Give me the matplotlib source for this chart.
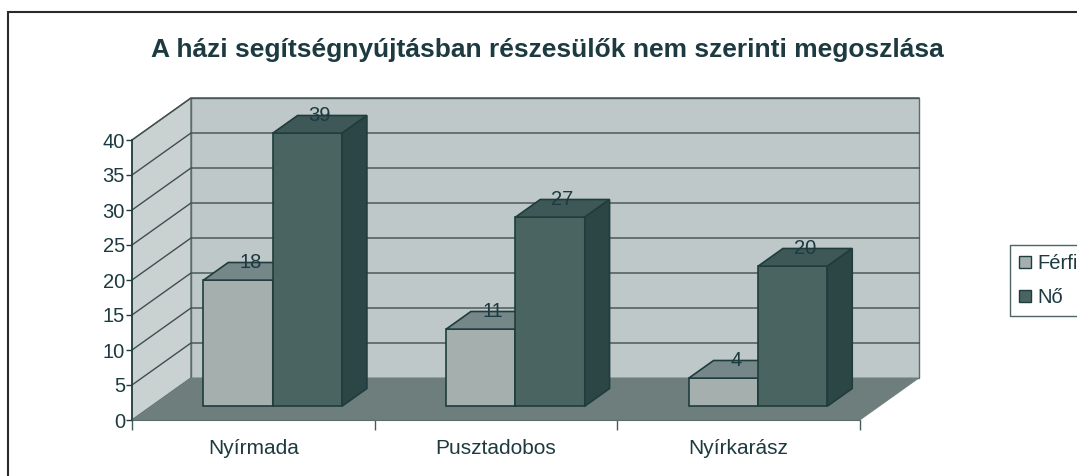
import matplotlib
matplotlib.use("Agg")
import matplotlib.pyplot as plt
from matplotlib.patches import Polygon, Patch, Rectangle

plt.rcParams['font.family'] = ['Liberation Sans', 'DejaVu Sans']

# data
categories = ["Nyírmada", "Pusztadobos", "Nyírkarász"]
series_names = ["Férfi", "Nő"]
ferfi = [18, 11, 4]
no = [39, 27, 20]
yticks = [0, 5, 10, 15, 20, 25, 30, 35, 40]

title = "A házi segítségnyújtásban részesülők nem szerinti megoszlása"

# colours
txt = "#1c3a40"
edge = "#1f3d3d"
wall_back = "#bfc8c8"
wall_side = "#c9d1d1"
floor_c = "#6d7e7d"
face = {"Férfi": ("#a5afad", "#76878a", "#8a9896"), "Nő": ("#4a6462", "#3d5856", "#2c4646")}

# oblique depth offset (in data units) and bar depth range
dx, dy = 0.243, 6.0
f0, f1 = 0.33, 0.75
bw = 1 / 3.5  # excel gap width 150

fig = plt.figure(figsize=(10.77, 4.76), dpi=100)
W, H = 1077, 476
xmin, xmax, ymin, ymax = -0.3, 3.5, -3, 48
pxx, pxy = 242.67, 7.0
left = 132 + xmin * pxx
bottom = (H - 420) + ymin * pxy
ax = fig.add_axes([left / W, bottom / H, (xmax - xmin) * pxx / W, (ymax - ymin) * pxy / H])
ax.set_xlim(xmin, xmax)
ax.set_ylim(ymin, ymax)
ax.patch.set_visible(False)

top = yticks[-1]
n = len(categories)

# walls and floor
ax.add_patch(Polygon([(dx, dy), (n + dx, dy), (n + dx, top + dy), (dx, top + dy)],
                     closed=True, fc=wall_back, ec="#5c6b6b", lw=1.0, zorder=1))
ax.add_patch(Polygon([(0, 0), (dx, dy), (dx, top + dy), (0, top)],
                     closed=True, fc=wall_side, ec="#5c6b6b", lw=1.0, zorder=1))
ax.add_patch(Polygon([(0, 0), (n, 0), (n + dx, dy), (dx, dy)],
                     closed=True, fc=floor_c, ec=floor_c, lw=0.5, zorder=2))

# gridlines
for v in yticks[1:]:
    ax.plot([0, dx, n + dx], [v, v + dy, v + dy], color="#3f4f4f", lw=1.0, zorder=1.5)

# bars
for i in range(n):
    for j, (name, vals) in enumerate(zip(series_names, [ferfi, no])):
        v = vals[i]
        x0 = i + 0.5 - bw + j * bw
        x1 = x0 + bw
        cf, ctop, cside = face[name]
        z = 3 + i + j * 0.1
        ax.bar(x0 + f0 * dx, v, width=bw, bottom=f0 * dy, align="edge",
               color=cf, edgecolor=edge, linewidth=1.2, zorder=z)
        ax.add_patch(Polygon([(x0 + f0 * dx, v + f0 * dy), (x1 + f0 * dx, v + f0 * dy),
                              (x1 + f1 * dx, v + f1 * dy), (x0 + f1 * dx, v + f1 * dy)],
                             closed=True, fc=ctop, ec=edge, lw=1.2, zorder=z))
        ax.add_patch(Polygon([(x1 + f0 * dx, f0 * dy), (x1 + f1 * dx, f1 * dy),
                              (x1 + f1 * dx, v + f1 * dy), (x1 + f0 * dx, v + f0 * dy)],
                             closed=True, fc=cside, ec=edge, lw=1.2, zorder=z))
        ax.text(x0 + bw / 2 + (f0 + f1) / 2 * dx, v + f1 * dy, str(v),
                ha="center", va="center", fontsize=14.5, color=txt, zorder=10)

# axes
for s in ["top", "right"]:
    ax.spines[s].set_visible(False)
ax.spines["left"].set_position(("data", 0))
ax.spines["left"].set_bounds(0, top)
ax.spines["bottom"].set_position(("data", 0))
ax.spines["bottom"].set_bounds(0, n)
ax.spines["left"].set_color(edge)
ax.spines["bottom"].set_color("#5c6b6b")
ax.spines["left"].set_linewidth(1.2)
ax.spines["bottom"].set_linewidth(0.8)
ax.spines["left"].set_zorder(4)
ax.set_yticks(yticks)
ax.tick_params(axis="y", direction="out", length=4, width=1, color=edge,
               labelsize=14.5, labelcolor=txt, pad=1)
ax.set_xticks(range(n + 1))
ax.set_xticklabels([])
ax.set_xticks([i + 0.5 for i in range(n)], minor=True)
ax.set_xticklabels(categories, minor=True)
ax.tick_params(axis="x", which="major", direction="out", length=7, width=1, color="#4a5a5a")
ax.tick_params(axis="x", which="minor", length=0, labelsize=15, labelcolor=txt, pad=14)

fig.text(547 / W, 1 - 50 / H, title, ha="center", va="center", fontsize=19,
         fontweight="bold", color=txt)

# legend
handles = [Patch(fc=face[s][0], ec=edge, lw=1.0) for s in series_names]
leg = fig.legend(handles, series_names, loc="upper left", bbox_to_anchor=(1010 / W, 1 - 245 / H),
                 frameon=True, fancybox=False, fontsize=14.5, handlelength=0.6, handleheight=0.6,
                 handletextpad=0.3, labelspacing=0.75, borderpad=0.45, borderaxespad=0)
leg.get_frame().set_edgecolor(edge)
leg.get_frame().set_linewidth(1.0)
for t in leg.get_texts():
    t.set_color(txt)

# outer chart border
fig.patches.append(Rectangle((8 / W, -0.1), 1.2, 1.1 - 12 / H, transform=fig.transFigure,
                             fill=False, ec="#2a2a2a", lw=1.5))

fig.savefig("out.png", dpi=100)
